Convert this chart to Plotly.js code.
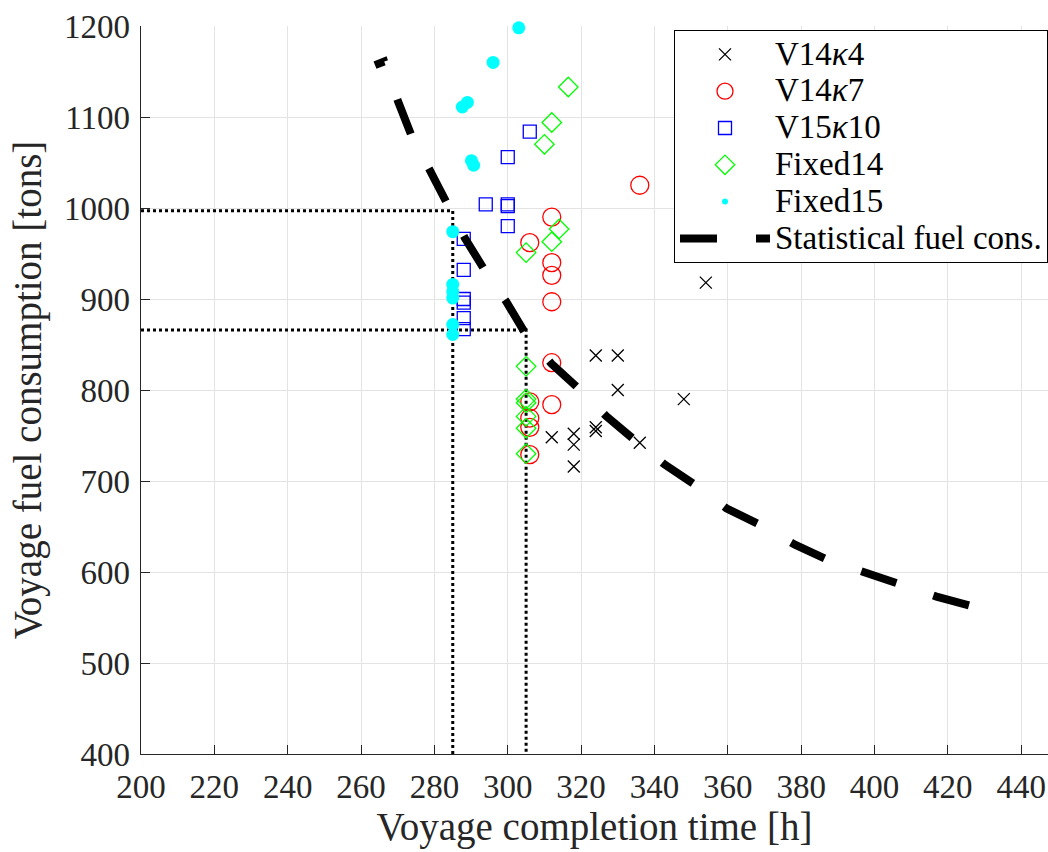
<!DOCTYPE html>
<html>
<head>
<meta charset="utf-8">
<script src="https://cdn.plot.ly/plotly-3.0.1.min.js"></script>
<style>
  html, body { margin: 0; padding: 0; background: #ffffff; }
  #chart { width: 1048px; height: 852px; }
</style>
</head>
<body>
<div id="chart"></div>
<script>
// Voyage completion time [h] vs. voyage fuel consumption [tons]
const v14k4Time = [354, 324, 330, 330, 348, 312, 318, 318, 318, 324, 324, 336];
const v14k4Fuel = [918, 838, 838, 800, 790, 748, 752, 740, 716, 759, 755, 742];

const v14k7Time = [336, 312, 306, 312, 312, 312, 312, 312, 306, 306, 306, 306];
const v14k7Fuel = [1025, 990, 962, 940, 926, 897, 830, 784, 787, 769, 759, 729];

const v15k10Time = [306, 300, 294, 300, 300, 300, 288, 288, 288, 288, 288, 288];
const v15k10Fuel = [1084, 1056, 1004, 1004, 1002, 980, 966, 932, 900, 896, 879, 867];

const fixed14Time = [316.5, 312, 310, 314, 312, 305, 305, 305, 305, 305, 305, 305];
const fixed14Fuel = [1133, 1094, 1070, 977, 963, 951, 826, 790, 786, 771, 758, 730];

const fixed15Time = [303, 296, 289, 287.6, 290.1, 290.7, 285, 285, 285, 285, 285, 285];
const fixed15Fuel = [1198, 1160, 1116, 1111, 1052, 1047, 974, 916, 908, 901, 872, 861];

// Statistical fuel consumption curve
const statTime = [263.8, 266.3, 270.1, 273.7, 278.7, 283.4, 288.3, 293.5, 299.6, 304.8,
                  311.9, 319.2, 326.9, 334.6, 342.8, 351.0, 359.6, 368.7, 378.3, 387.4,
                  397.4, 406.9, 416.9, 426.9];
const statFuel = [1157, 1161, 1117, 1080, 1042, 1005, 967, 933, 897, 862,
                  829, 802, 771, 745, 718, 696, 670, 652, 630, 613,
                  599, 587, 573, 562];

// Reference voyage times and their statistical consumption (dotted guides)
const guideTime = [285, 305];
const guideFuel = [997, 866];

const xRange = [200, 447.3];
const yRange = [400, 1200];
const xTicks = [200, 220, 240, 260, 280, 300, 320, 340, 360, 380, 400, 420, 440];
const yTicks = [400, 500, 600, 700, 800, 900, 1000, 1100, 1200];

const serif = "Liberation Serif, DejaVu Serif, serif";
const ink = "#262626";

// legend labels are set a little larger than the row pitch
const label = s => '<span style="font-size:33px">' + s + '</span>';

// dash pattern of the statistical curve: short leading dash, then long dashes
const longDash = [];
for (let i = 0; i < 30; i++) { longDash.push("37px", "39px"); }
const statDash = ["10px", "40px"].concat(longDash).join(",");
const legendDash = longDash.join(",");

const traces = [];

// dotted guides
guideTime.forEach((t, i) => {
  traces.push({
    x: [xRange[0], t, t], y: [guideFuel[i], guideFuel[i], yRange[0]],
    mode: "lines", type: "scatter", showlegend: false, hoverinfo: "skip",
    line: { color: "#000000", width: 3, dash: "3px,3px" }
  });
});

traces.push({
  name: label("V14<i>κ</i>4"), legendgroup: "a",
  x: v14k4Time, y: v14k4Fuel, mode: "markers", type: "scatter", cliponaxis: false,
  marker: { symbol: "x-thin-open", size: 12, color: "#000000",
            line: { color: "#000000", width: 1.3 } }
});
traces.push({
  name: label("V14<i>κ</i>7"), legendgroup: "b",
  x: v14k7Time, y: v14k7Fuel, mode: "markers", type: "scatter", cliponaxis: false,
  marker: { symbol: "circle-open", size: 18, color: "#ff0000",
            line: { color: "#ff0000", width: 1.3 } }
});
traces.push({
  name: label("V15<i>κ</i>10"), legendgroup: "c",
  x: v15k10Time, y: v15k10Fuel, mode: "markers", type: "scatter", cliponaxis: false,
  marker: { symbol: "square-open", size: 13, color: "#0000ff",
            line: { color: "#0000ff", width: 1.3 } }
});
traces.push({
  name: label("Fixed14"), legendgroup: "d",
  x: fixed14Time, y: fixed14Fuel, mode: "markers", type: "scatter", cliponaxis: false,
  marker: { symbol: "diamond-open", size: 15, color: "#00ff00",
            line: { color: "#00ff00", width: 1.3 } }
});
// Fixed15 points; the legend shows a small dot for this series
traces.push({
  name: label("Fixed15"), legendgroup: "e", showlegend: false,
  x: fixed15Time, y: fixed15Fuel, mode: "markers", type: "scatter", cliponaxis: false,
  marker: { symbol: "circle", size: 13, color: "#00ffff", line: { width: 0 } }
});
traces.push({
  name: label("Fixed15"), legendgroup: "e",
  x: [null], y: [null], mode: "markers", type: "scatter",
  marker: { symbol: "circle", size: 6, color: "#00ffff", line: { width: 0 } }
});
// statistical curve; its legend sample starts on a full dash
traces.push({
  name: label("Statistical fuel cons."), legendgroup: "f", showlegend: false,
  x: statTime, y: statFuel, mode: "lines", type: "scatter",
  line: { color: "#000000", width: 8, dash: statDash }
});
traces.push({
  name: label("Statistical fuel cons."), legendgroup: "f",
  x: [null], y: [null], mode: "lines", type: "scatter",
  line: { color: "#000000", width: 8, dash: legendDash }
});

const axisCommon = {
  ticks: "inside", ticklen: 9, tickwidth: 1, tickcolor: ink,
  showline: true, linecolor: ink, linewidth: 1.3,
  showgrid: true, gridcolor: "#e3e3e3", gridwidth: 1,
  zeroline: false, mirror: false,
  tickfont: { family: serif, size: 33, color: ink }
};

const layout = {
  width: 1048, height: 852,
  margin: { l: 141, r: 0, t: 26, b: 98 },
  paper_bgcolor: "#ffffff", plot_bgcolor: "#ffffff",
  font: { family: serif, color: ink },
  xaxis: Object.assign({}, axisCommon, {
    range: xRange, tickvals: xTicks, ticktext: xTicks.map(String),
    ticklabelstandoff: 3,
    title: { text: "Voyage completion time [h]", font: { family: serif, size: 39, color: ink }, standoff: 6 }
  }),
  yaxis: Object.assign({}, axisCommon, {
    range: yRange, tickvals: yTicks, ticktext: yTicks.map(String),
    ticklabelstandoff: 3,
    title: { text: "Voyage fuel consumption [tons]", font: { family: serif, size: 39, color: ink }, standoff: 10 }
  }),
  legend: {
    x: 0.5877, y: 0.9945, xanchor: "left", yanchor: "top",
    bgcolor: "#ffffff", bordercolor: "#000000", borderwidth: 1,
    font: { family: serif, size: 26, color: "#000000" },
    traceorder: "grouped", tracegroupgap: 0, itemwidth: 90
  },
  showlegend: true
};

Plotly.newPlot("chart", traces, layout, { displayModeBar: false, staticPlot: true });
</script>
</body>
</html>
